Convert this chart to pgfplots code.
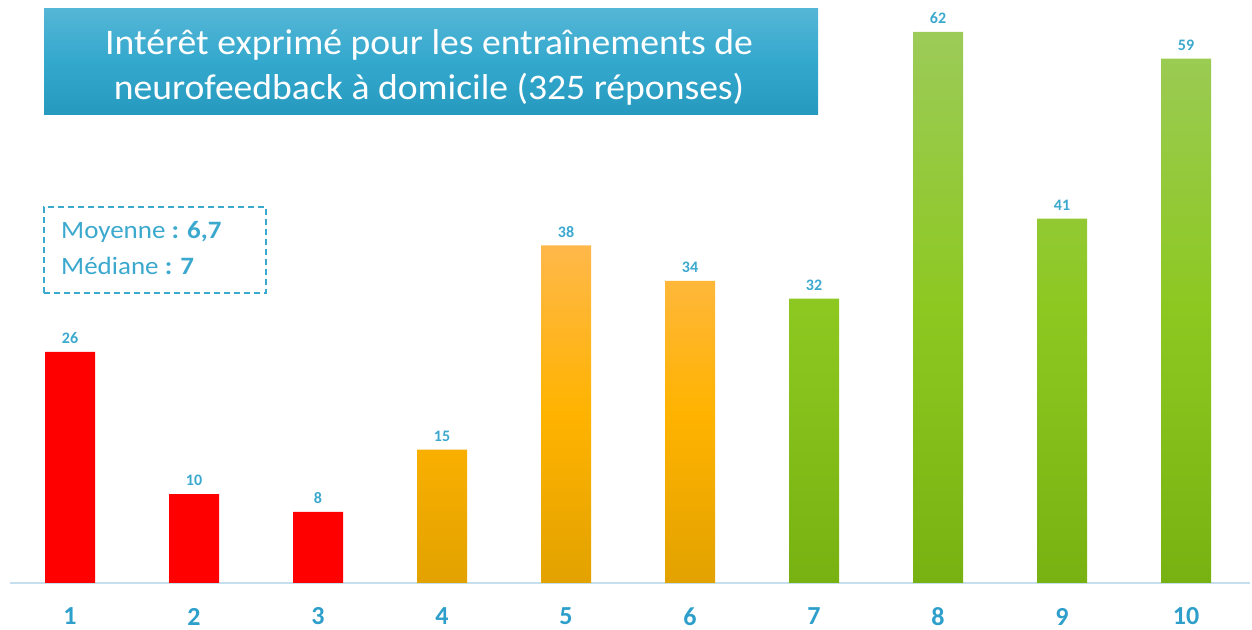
\documentclass[border=0pt]{standalone}
\usepackage{pgfplots}
\pgfplotsset{compat=1.18}
\usepackage{fontspec}
\setmainfont{Carlito}
\newfontfamily\titlefont[FakeStretch=1.045]{Carlito}
\newfontfamily\statfont[FakeStretch=1.08]{Carlito}
\definecolor{lbl}{HTML}{3BA8CE}
\definecolor{tick}{HTML}{2E9FCB}
\definecolor{axcol}{HTML}{C5DFEE}
\definecolor{redbar}{HTML}{FF0000}
\definecolor{orTop}{HTML}{FFB84A}
\definecolor{orMid}{HTML}{FFB300}
\definecolor{orBot}{HTML}{E2A200}
\definecolor{grTop}{HTML}{9CCB58}
\definecolor{grMid}{HTML}{8DC821}
\definecolor{grBot}{HTML}{78B212}
\definecolor{tTop}{HTML}{55B6D6}
\definecolor{tMid}{HTML}{33A8CD}
\definecolor{tBot}{HTML}{2799BF}
\begin{document}
\begin{tikzpicture}[x=1bp,y=1bp]
\path[use as bounding box] (0,0) rectangle (1252,630);
\begin{axis}[
  at={(10bp,47bp)}, anchor=south west,
  scale only axis, width=1240bp, height=583bp,
  xmin=0.516, xmax=10.516, ymin=0, ymax=65.6,
  axis x line*=bottom, axis y line=none,
  axis line style={draw=axcol, line width=1.5bp},
  xtick={1,...,10}, major tick length=0pt,
  /pgf/number format/assume math mode=true,
  xticklabel style={font=\fontsize{26bp}{28bp}\selectfont\bfseries, text=tick, anchor=center, yshift=-33.5bp},
  ytick=\empty,
  ybar, bar width=50bp, bar shift=0pt,
  nodes near coords,
  nodes near coords style={font=\fontsize{16bp}{18bp}\selectfont\bfseries, text=lbl, anchor=south, yshift=4.5bp},
  clip=false,
]
\addplot[draw=none, fill=redbar] coordinates {(1,26) (2,10) (3,8)};
\addplot[draw=none, top color=orTop, bottom color=orBot, middle color=orMid] coordinates {(4,15) (5,38) (6,34)};
\addplot[draw=none, top color=grTop, bottom color=grBot, middle color=grMid] coordinates {(7,32) (8,62) (9,41) (10,59)};
\end{axis}
% title box
\shade[top color=tTop, bottom color=tBot, middle color=tMid] (44,515) rectangle (818,621);
\node[text=white, anchor=base, inner sep=0, font=\fontsize{36bp}{44bp}\titlefont] at (429,575)
  {Intérêt exprimé pour les entraînements de};
\node[text=white, anchor=base, inner sep=0, font=\fontsize{36bp}{44bp}\titlefont] at (429,530)
  {neurofeedback à domicile (325 réponses)};
% stats box
\draw[draw=lbl, line width=1.5bp, dash pattern=on 6bp off 4bp] (44,337) rectangle (266,423);
\node[anchor=base west, text=lbl, font=\fontsize{25bp}{28bp}\statfont, inner sep=0] at (61,391) {Moyenne \textbf{: 6,7}};
\node[anchor=base west, text=lbl, font=\fontsize{25bp}{28bp}\statfont, inner sep=0] at (61,355) {Médiane \textbf{: 7}};
\end{tikzpicture}
\end{document}
